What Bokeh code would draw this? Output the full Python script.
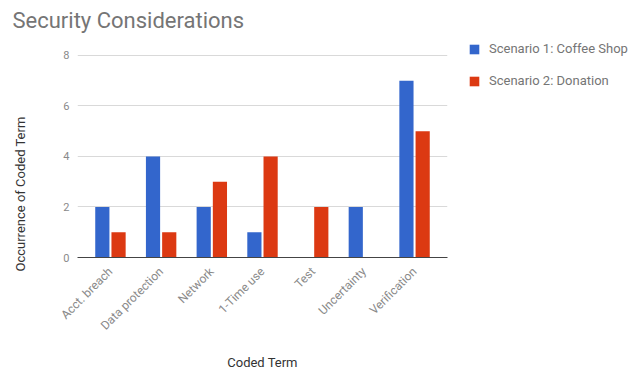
import math
from bokeh.plotting import figure
from bokeh.layouts import row, column
from bokeh.models import (ColumnDataSource, FactorRange, Legend, LegendItem, Range1d,
                          FixedTicker, Label, Title)
from bokeh.transform import dodge
from bokeh.embed import file_html
from bokeh.resources import INLINE

categories = ["Acct. breach", "Data protection", "Network", "1-Time use", "Test", "Uncertainty", "Verification"]
scenario1 = [2, 4, 2, 1, 0, 2, 7]
scenario2 = [1, 1, 3, 4, 2, 0, 5]
series_names = ["Scenario 1: Coffee Shop", "Scenario 2: Donation"]
colors = ["#3366cc", "#dc3912"]
y_ticks = [0, 2, 4, 6, 8]
title_text = "Security Considerations"
x_title = "Coded Term"
y_title = "Occurrence of Coded Term"

FONT = "Roboto"
GREY = "#8a8a8a"


def blank(width, height, xr=(0, 1), yr=(0, 1)):
    f = figure(width=width, height=height, output_backend="svg", toolbar_location=None,
               x_axis_type=None, y_axis_type=None, min_border=0,
               x_range=Range1d(*xr), y_range=Range1d(*yr))
    f.outline_line_color = None
    f.background_fill_color = "white"
    f.border_fill_color = "white"
    return f


# ---- title strip ----
title_fig = blank(632, 40)
title_fig.add_layout(Label(x=12, y=20, x_units="screen", y_units="screen", text=title_text,
                           text_font=FONT, text_font_size="22px", text_color="#757575",
                           text_baseline="middle", text_align="left"))

# ---- y title strip (its frame is aligned with the chart's frame inside the row) ----
ytitle_fig = blank(40, 332)
ytitle_fig.add_layout(Title(text=y_title, align="left", offset=-14, standoff=21,
                            text_font=FONT, text_font_size="13px", text_font_style="normal",
                            text_color="#333333"), "left")

# ---- main chart ----
source = ColumnDataSource(dict(cat=categories, s1=scenario1, s2=scenario2))

p = figure(width=415, height=332, output_backend="svg", toolbar_location=None,
           x_range=FactorRange(factors=categories, range_padding=0.15, range_padding_units="absolute"),
           y_range=Range1d(0, 8.59),
           min_border_left=37, min_border_right=8, min_border_top=0, min_border_bottom=114)

p.vbar(x=dodge("cat", -0.16, range=p.x_range), top="s1", width=0.28, source=source,
       fill_color=colors[0], line_color=None)
p.vbar(x=dodge("cat", 0.16, range=p.x_range), top="s2", width=0.28, source=source,
       fill_color=colors[1], line_color=None)

p.outline_line_color = None
p.background_fill_color = "white"
p.border_fill_color = "white"

p.xgrid.grid_line_color = None
p.ygrid.grid_line_color = "#d9d9d9"
p.ygrid.ticker = FixedTicker(ticks=y_ticks)

p.yaxis.ticker = FixedTicker(ticks=y_ticks)
p.yaxis.axis_line_color = None
p.yaxis.major_tick_line_color = None
p.yaxis.minor_tick_line_color = None
p.yaxis.major_label_text_font = FONT
p.yaxis.major_label_text_font_size = "11px"
p.yaxis.major_label_text_color = GREY
p.yaxis.major_label_standoff = 2

p.xaxis.axis_line_color = "#444444"
p.xaxis.major_tick_line_color = None
p.xaxis.minor_tick_line_color = None
p.xaxis.major_label_orientation = math.pi / 4
p.xaxis.major_label_text_font = FONT
p.xaxis.major_label_text_font_size = "12px"
p.xaxis.major_label_text_color = GREY
p.xaxis.major_label_standoff = 6
p.xaxis.axis_label = x_title
p.xaxis.axis_label_text_font = FONT
p.xaxis.axis_label_text_font_size = "13px"
p.xaxis.axis_label_text_font_style = "normal"
p.xaxis.axis_label_text_color = "#333333"
p.xaxis.axis_label_text_line_height = 1.0
p.xaxis.axis_label_standoff = 14

# ---- legend strip (frame aligned with the chart's frame) ----
# the series renderers here sit outside this strip's visible ranges; they only feed the legend
legend_fig = blank(177, 332, xr=(-20, -19), yr=(-20, -19))
lr1 = legend_fig.vbar(x="s1", top="s1", width=0.1, source=source, fill_color=colors[0], line_color=None)
lr2 = legend_fig.vbar(x="s2", top="s2", width=0.1, source=source, fill_color=colors[1], line_color=None)
legend = Legend(items=[LegendItem(label=series_names[0], renderers=[lr1]),
                       LegendItem(label=series_names[1], renderers=[lr2])],
                location=(13, 169), orientation="vertical")
legend.border_line_color = None
legend.background_fill_alpha = 0
legend.padding = 0
legend.margin = 0
legend.glyph_width = 12
legend.glyph_height = 12
legend.label_height = 12
legend.spacing = 17
legend.label_standoff = 9
legend.label_text_font = FONT
legend.label_text_font_size = "13px"
legend.label_text_color = "#757575"
legend_fig.add_layout(legend)

layout = column(title_fig, row(ytitle_fig, p, legend_fig, spacing=0), spacing=0)

open("out.html", "w").write(file_html(layout, INLINE))
